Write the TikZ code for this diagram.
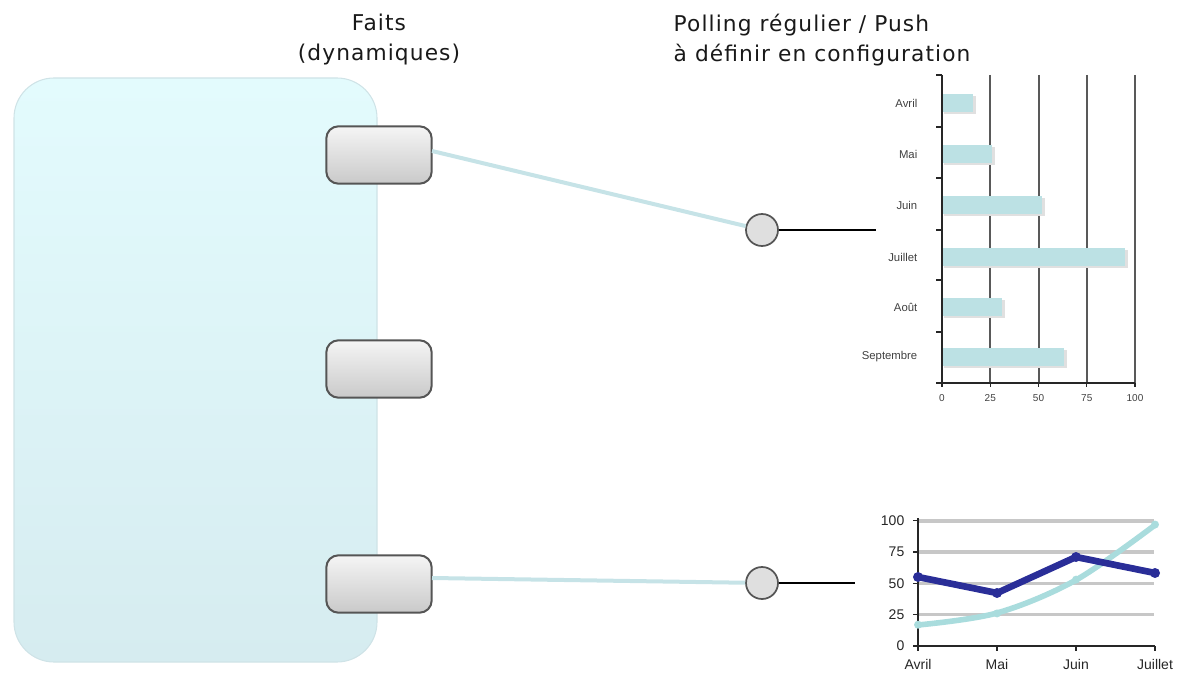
\documentclass[tikz,border=0pt]{standalone}
\usepackage{fontspec}
\setmainfont{DejaVu Sans}
\newfontfamily\chartfont{Liberation Sans}
\newfontfamily\titlefont[LetterSpace=5]{DejaVu Sans}
\definecolor{panelTop}{HTML}{E3FBFD}
\definecolor{panelBot}{HTML}{D6ECF0}
\definecolor{panelEdge}{HTML}{CFE3E7}
\definecolor{linkcol}{HTML}{C6E3E7}
\definecolor{barcol}{HTML}{BCE1E4}
\definecolor{navy}{HTML}{2A2E98}
\definecolor{cyanline}{HTML}{A9DCDD}
\definecolor{portedge}{HTML}{555555}
\tikzset{
  panel/.style={draw=panelEdge, line width=0.8pt, top color=panelTop, bottom color=panelBot, rounded corners=30pt},
  port/.style={draw=portedge, line width=1.5pt, top color=gray!8, bottom color=gray!42, rounded corners=9pt, minimum width=79pt, minimum height=43pt, inner sep=0pt},
  plug/.style={circle, draw=portedge, line width=1.3pt, fill=gray!25, minimum size=24pt, inner sep=0pt},
  link/.style={linkcol, line width=3pt},
  wire/.style={black, line width=1.8pt},
  title/.style={font=\titlefont\fontsize{16.3}{22.5}\selectfont, text=black!90},
  gridbar/.style={black!65, line width=1.5pt},
  axisline/.style={black!85, line width=1.4pt},
  bar/.style={fill=barcol, draw=none},
  barshadow/.style={fill=black!12, draw=none},
  catlabel/.style={font=\chartfont\fontsize{8.5}{9}\selectfont, text=black!75, anchor=east},
  ticklabel/.style={font=\chartfont\fontsize{7.5}{8}\selectfont, text=black!75},
  lcgrid/.style={black!22, line width=2.6pt},
  lclabel/.style={font=\chartfont\fontsize{10.5}{11}\selectfont, text=black!85},
  navyline/.style={navy, line width=5pt, line join=round},
  cyanplot/.style={cyanline, line width=4.2pt, line cap=round},
}
\begin{document}
\begin{tikzpicture}[x=0.75pt,y=-0.75pt]
\useasboundingbox (0,0) rectangle (1177,673);
% titles
\node[title, align=center] (t1) at (379,40) {Faits\\(dynamiques)};
\node[title, align=left, anchor=west] (t2) at (669,40) {Polling régulier / Push\\à définir en configuration};
% panel
\draw[panel] (14,78) rectangle (377,662);
% ports
\node[port] (b1) at (379,155) {};
\node[port] (b2) at (379,369) {};
\node[port] (b3) at (379,584) {};
% plugs
\node[plug] (c1) at (762,230) {};
\node[plug] (c3) at (762,583) {};
\coordinate (e1) at (876,230);
\coordinate (e3) at (855,583);
\coordinate (s1) at (432,151);
\coordinate (s3) at (432,578);
% connectors
\draw[link] (s1) -- (c1);
\draw[link] (s3) -- (c3);
\draw[wire] (c1.east) -- (e1);
\draw[wire] (c3.east) -- (e3);
% ---- bar chart ----
\foreach \v in {25,50,75,100}{
  \draw[gridbar] ({942+1.93*\v},75) -- ({942+1.93*\v},383);
}
\foreach \yc/\v/\lab in {103/16/Avril,154/26/Mai,205/52/Juin,257/95/Juillet,307/31/Août,357/63/Septembre}{
  \fill[barshadow] (944,{\yc-7}) rectangle ({942+1.93*\v+3},{\yc+11});
  \fill[bar] (942,{\yc-9}) rectangle ({942+1.93*\v},{\yc+9});
  \node[catlabel] at (922,\yc) {\lab};
}
\draw[axisline] (942,75) -- (942,383) -- (1135,383);
\foreach \yt in {75,127,178,230,280,332,383}{
  \draw[axisline, line width=1pt] (936,\yt) -- (942,\yt);
}
\foreach \v in {0,25,50,75,100}{
  \draw[axisline, line width=1pt] ({942+1.93*\v},383) -- ({942+1.93*\v},387);
  \node[ticklabel] at ({942+1.93*\v},398) {\v};
}
% ---- line chart ----
\foreach \v in {25,50,75,100}{
  \draw[lcgrid] (918,{646-1.252*\v}) -- (1154,{646-1.252*\v});
}
\draw[axisline] (918,518) -- (918,646) -- (1155,646);
\foreach \v in {0,25,50,75,100}{
  \draw[axisline, line width=1pt] (913,{646-1.252*\v}) -- (918,{646-1.252*\v});
  \node[lclabel, anchor=east] at (909,{646-1.252*\v}) {\v};
}
\foreach \i/\lab in {0/Avril,1/Mai,2/Juin,3/Juillet}{
  \draw[axisline, line width=1pt] ({918+79*\i},646) -- ({918+79*\i},651);
  \node[lclabel] at ({918+79*\i},664) {\lab};
}
\draw[cyanplot] plot[smooth, tension=0.55] coordinates {(918,625) (997,613) (1076,580) (1155,525)};
\foreach \i/\v in {0/17,1/26,2/53,3/97}{
  \fill[cyanline] ({918+79*\i},{646-1.252*\v}) circle (4);
}
\draw[navyline] (918,577) -- (997,593) -- (1076,557) -- (1155,573);
\foreach \x/\y in {918/577,997/593,1076/557,1155/573}{
  \fill[navy] (\x,\y) circle (5);
}
\end{tikzpicture}
\end{document}
